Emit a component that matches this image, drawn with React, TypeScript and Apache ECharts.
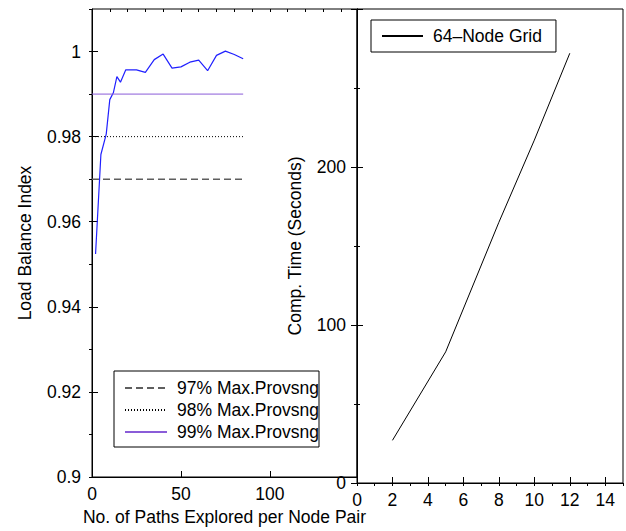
import React, { useEffect, useRef } from "react";
import * as echarts from "echarts";

// Left panel: load balance index vs paths explored
const pathsExplored = [2, 5, 8, 10, 12, 14, 16, 19, 25, 30, 35, 40, 45, 50, 55, 60, 65, 70, 75, 80, 85];
const loadBalance = [0.9524, 0.9758, 0.9806, 0.9887, 0.9903, 0.9941, 0.9928, 0.9957, 0.9957, 0.9951, 0.9981, 0.9994, 0.9961, 0.9964, 0.9975, 0.998, 0.9955, 0.9991, 1.0001, 0.9993, 0.9983];
const thresholdNames = ["97% Max.Provsng", "98% Max.Provsng", "99% Max.Provsng"];
const thresholdLevels = [0.97, 0.98, 0.99];
const thresholdRange = [0, 85];

// Right panel: computation time
const gridX = [2, 5, 8, 10, 12];
const compTime = [27, 83, 165, 217, 272];
const gridSeriesName = "64\u2013Node Grid";

const FONT = "'Liberation Sans', Arial, Helvetica, sans-serif";
const FS = 17.5;

export default function App() {
  const ref = useRef<HTMLDivElement>(null);
  useEffect(() => {
    document.body.style.margin = "0";
    const chart = echarts.init(ref.current!, null, { renderer: "svg" });
    const black = "#000";
    const axisLine = { show: true, lineStyle: { color: black, width: 1 } };
    const label = (show: boolean, margin = 8) => ({
      show,
      fontSize: FS,
      fontFamily: FONT,
      color: black,
      margin,
      showMaxLabel: false,
    });
    const tick = (len: number) => ({ show: true, inside: true, length: len, lineStyle: { color: black, width: 1 } });

    const thresholdStyles = [
      { color: "#5e5e5e", width: 1.5, type: [7, 4] },
      { color: "#000", width: 1, type: [1, 2] },
      { color: "#8a5cd8", width: 1, type: "solid" },
    ];

    const legendCommon = {
      orient: "vertical",
      itemHeight: 14,
      borderColor: black,
      borderWidth: 1,
      borderRadius: 0,
      backgroundColor: "#fff",
      itemStyle: { opacity: 0, borderWidth: 0 },
      textStyle: { fontSize: FS, fontFamily: FONT, color: black, padding: [0, 0, 0, 5] },
    };

    const option: any = {
      animation: false,
      backgroundColor: "#fff",
      textStyle: { fontFamily: FONT },
      grid: [
        { left: 92, top: 9, width: 265, height: 474, show: true, borderColor: black, borderWidth: 1, backgroundColor: "transparent" },
        { left: 357, top: 9, width: 266, height: 474, show: true, borderColor: black, borderWidth: 1, backgroundColor: "transparent" },
      ],
      xAxis: [
        {
          gridIndex: 0, type: "value", min: 0, max: 149, interval: 50,
          axisLine, axisTick: tick(6), axisLabel: label(true, 8), splitLine: { show: false },
          name: "No. of Paths Explored per Node Pair", nameLocation: "middle", nameGap: 31,
          nameTextStyle: { fontSize: FS, fontFamily: FONT, color: black },
        },
        {
          gridIndex: 0, type: "value", min: 0, max: 149, interval: 10,
          axisLine: { show: false }, axisTick: tick(3), axisLabel: { show: false }, splitLine: { show: false },
        },
        {
          gridIndex: 1, type: "value", min: 0, max: 15, interval: 2,
          axisLine, axisTick: tick(6), axisLabel: label(true, 8), splitLine: { show: false },
        },
        {
          gridIndex: 1, type: "value", min: 0, max: 15, interval: 1,
          axisLine: { show: false }, axisTick: tick(3), axisLabel: { show: false }, splitLine: { show: false },
        },
      ],
      yAxis: [
        {
          gridIndex: 0, type: "value", min: 0.9, max: 1.01, interval: 0.02,
          axisLine, axisTick: tick(6), axisLabel: label(true, 11), splitLine: { show: false },
          name: "Load Balance Index", nameLocation: "middle", nameGap: 58,
          nameTextStyle: { fontSize: FS, fontFamily: FONT, color: black },
        },
        {
          gridIndex: 0, type: "value", min: 0.9, max: 1.01, interval: 0.01,
          axisLine: { show: false }, axisTick: tick(3), axisLabel: { show: false }, splitLine: { show: false },
        },
        {
          gridIndex: 1, type: "value", min: 0, max: 300, interval: 100, position: "left",
          axisLine, axisTick: tick(6), axisLabel: label(true, 11), splitLine: { show: false },
          minorTick: { show: true, splitNumber: 2, length: 3, lineStyle: { color: black, width: 1 } },
          minorSplitLine: { show: false },
          name: "Comp. Time (Seconds)", nameLocation: "middle", nameGap: 53,
          nameTextStyle: { fontSize: FS, fontFamily: FONT, color: black },
        },
        {
          gridIndex: 1, type: "value", min: 0, max: 300, interval: 100, position: "right",
          axisLine, axisTick: tick(6), axisLabel: { show: false }, splitLine: { show: false },
          minorTick: { show: true, splitNumber: 2, length: 3, lineStyle: { color: black, width: 1 } },
          minorSplitLine: { show: false },
        },
      ],
      legend: [
        {
          ...legendCommon,
          data: thresholdNames,
          left: 114,
          top: 371,
          padding: [8, 0, 6, 10],
          itemGap: 4,
          itemWidth: 42,
        },
        {
          ...legendCommon,
          data: [gridSeriesName],
          left: 371,
          top: 20,
          padding: [7, 14, 7, 10],
          itemWidth: 41,
        },
      ],
      series: [
        {
          name: "Load Balance",
          type: "line",
          xAxisIndex: 0,
          yAxisIndex: 0,
          symbol: "none",
          data: pathsExplored.map((x, i) => [x, loadBalance[i]]),
          lineStyle: { color: "#2020ff", width: 1.2 },
          itemStyle: { color: "#2020ff" },
        },
        ...thresholdNames.map((n, i) => ({
          name: n,
          type: "line",
          xAxisIndex: 0,
          yAxisIndex: 0,
          symbol: "none",
          data: thresholdRange.map((x) => [x, thresholdLevels[i]]),
          lineStyle: thresholdStyles[i],
          itemStyle: { color: thresholdStyles[i].color },
        })),
        {
          name: gridSeriesName,
          type: "line",
          xAxisIndex: 2,
          yAxisIndex: 2,
          symbol: "none",
          data: gridX.map((x, i) => [x, compTime[i]]),
          lineStyle: { color: black, width: 1 },
          itemStyle: { color: black },
        },
      ],
    };
    chart.setOption(option);
    return () => chart.dispose();
  }, []);
  return <div ref={ref} style={{ width: 626, height: 531 }} />;
}
